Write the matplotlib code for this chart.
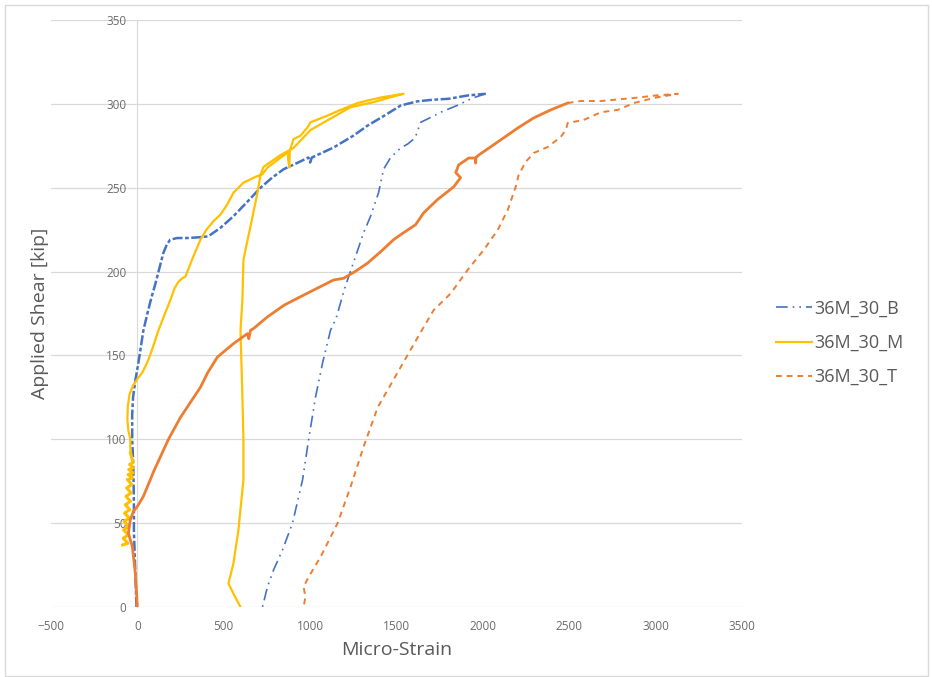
import matplotlib
matplotlib.use("Agg")
import matplotlib.pyplot as plt
from matplotlib.patches import Rectangle

plt.rcParams['font.family'] = ['Open Sans', 'DejaVu Sans']

# 36M_30_B : loading branch (dense points) and unloading branch
b_load_x = [-5, -10, -15, -20, -20, -22, -25, -30, -30, -25, -12, 5, 20, 35, 58, 80, 105, 130, 150,
            170, 190, 230, 290, 365, 410, 480, 556, 640, 713, 780, 846, 930, 990, 1000, 1010,
            1136, 1250, 1332, 1430, 1524, 1620, 1715, 1800, 1912, 2016]
b_load_y = [0, 15, 30, 45, 60, 75, 88, 100, 115, 125, 135, 145, 155, 165, 175, 184, 193, 203, 211,
            216, 219, 220, 220, 220.5, 221, 226, 233, 242, 250, 256, 261, 265, 268, 265, 268,
            274, 281, 287, 293, 299, 301.5, 302.5, 303, 305, 306]
b_unload_x = [2016, 1941, 1850, 1756, 1680, 1640, 1628, 1622, 1600, 1564, 1524, 1466, 1425, 1396,
              1350, 1309, 1263, 1200, 1150, 1118, 1072, 1031, 991, 956, 898, 840, 788, 753, 724]
b_unload_y = [306, 303.5, 299, 295, 291, 289, 285.6, 283, 279, 276, 273.7, 268, 261, 247,
              233, 223, 209, 190, 172, 165, 145.5, 125, 99.6, 75.7, 50, 34, 22, 12, 0]

# 36M_30_M : noisy low-load band, loading up to peak, then unloading
m_noise_x = [-85, -55, -82, -52, -80, -50, -77, -47, -74, -44, -70, -40, -66, -36, -62, -32, -58,
             -28, -54, -25, -50, -24, -45, -25, -40]
m_noise_y = [37, 38, 41, 43, 46, 48, 51, 53, 56, 58, 61, 63, 66, 68, 71, 73, 76,
             77, 79, 80, 82, 83, 85, 86, 92]
m_x = [-40, -41, -52, -58, -55, -45, -25, 0, 30, 58, 80, 100, 122, 160, 191, 215, 238, 260, 278,
       320, 365, 400, 440, 481, 520, 556, 614, 684, 724, 753, 811, 870, 875, 880, 882, 904, 944,
       985, 1002, 1100, 1176, 1275, 1332, 1420, 1541,
       1450, 1367, 1234, 1176, 1002, 904, 829, 730, 713, 695, 655, 630, 614, 608, 597, 608, 614,
       614, 585, 556, 527, 556, 597]
m_y = [92, 100, 105, 112, 120, 127, 132, 136, 140, 146, 152, 158, 165, 175, 183, 190, 194, 196, 197,
       208, 219, 225, 230, 234, 240, 247, 253, 256.5, 258, 262, 266.5, 271, 265, 262, 272, 279, 281,
       286, 289, 293, 296.4, 300.5, 302, 304, 306,
       303.5, 301, 298, 294.6, 284.4, 273.7, 269.5, 262.4, 257.6, 247, 227, 215, 207, 183, 165, 125, 100,
       76, 46, 26, 14, 8, 0]

# 36M_30_T : dense loading branch, then sparse top + unloading
t_load_x = [0, -12, -29, -52, -41, -23, 0, 35, 95, 180, 249, 365, 406, 463, 556, 637, 645, 655,
            672, 753, 850, 944, 1040, 1136, 1194, 1260, 1332, 1410, 1483, 1524, 1611, 1657, 1738,
            1831, 1871, 1843, 1860, 1918, 1958, 1958, 1960, 1976, 2040, 2103, 2202, 2294, 2393, 2491]
t_load_y = [0, 20, 36, 44, 52, 57, 60, 66, 81, 100, 113, 131, 139.5, 149, 157, 163, 160, 165,
            166, 173, 180, 185, 190, 195, 196, 200, 205, 212, 219, 222, 228, 235, 243,
            250.5, 256, 259, 263.6, 267.7, 267.7, 264.7, 268, 269.5, 274, 278.5, 285.6, 291.6, 296.4, 300.5]
t_unload_x = [2491, 2567, 2683, 2874, 3000, 3129, 2990, 2874, 2781, 2683, 2584, 2491, 2480, 2451,
              2376, 2294, 2248, 2207, 2190, 2144, 2086, 2005, 1912, 1814, 1715, 1651, 1524, 1391,
              1309, 1234, 1159, 1060, 991, 962, 973, 962]
t_unload_y = [300.5, 301.7, 301.7, 303.5, 305, 306, 303.5, 300.5, 296.4, 295, 290.4, 288.6, 284.4, 280.3,
              274.3, 270.7, 265.4, 257.6, 250.5, 236.8, 224.8, 212.9, 201, 187, 177, 165.8, 143, 119,
              95.4, 71.6, 50, 29.8, 17.9, 12, 6, 0]

blue = '#4472C4'
gold = '#FFC000'
orange = '#ED7D31'
text_gray = '#6b6b6b'
grid_gray = '#d9d9d9'

fig = plt.figure(figsize=(9.32, 6.77), dpi=100)
ax = fig.add_axes([51 / 932, 1 - 607 / 677, 691 / 932, 587 / 677])

ax.plot(b_load_x, b_load_y, color=blue, lw=1.8, ls=(0, (4, 1, 1.5, 1)))
lb, = ax.plot(b_unload_x, b_unload_y, color=blue, lw=1.2, ls=(0, (7, 3, 1, 3, 1, 3)), label='36M_30_B')
ax.plot(m_noise_x, m_noise_y, color=gold, lw=2.2)
lm, = ax.plot(m_x, m_y, color=gold, lw=1.6, label='36M_30_M')
ax.plot(t_load_x, t_load_y, color=orange, lw=2.0)
lt, = ax.plot(t_unload_x, t_unload_y, color=orange, lw=1.4, ls=(0, (3, 2.5)), label='36M_30_T')

ax.set_xlim(-500, 3500)
ax.set_ylim(0, 350)
ax.set_xticks(range(-500, 3501, 500))
ax.set_yticks(range(0, 351, 50))

for s in ['top', 'right', 'bottom']:
    ax.spines[s].set_visible(False)
ax.spines['left'].set_position(('data', 0))
ax.spines['left'].set_color(grid_gray)
ax.spines['left'].set_linewidth(0.8)
ax.spines['left'].set_zorder(0)

ax.grid(axis='y', color=grid_gray, lw=0.9)
ax.set_axisbelow(True)
ax.tick_params(axis='both', length=0, labelsize=8.5, labelcolor=text_gray)
ax.tick_params(axis='y', pad=8)
ax.tick_params(axis='x', pad=9)

ax.set_xlabel('Micro-Strain', fontsize=14, color='#595959', labelpad=6)
ax.set_ylabel('Applied Shear [kip]', fontsize=14, color='#595959')
ax.yaxis.set_label_coords(-0.003, 0.5)

fig.legend(handles=[lb, lm, lt], loc='center left', bbox_to_anchor=(760 / 932, 1 - 343 / 677),
           frameon=False, fontsize=13, labelcolor='#595959', handlelength=2.0,
           handletextpad=0.1, labelspacing=0.9)

fig.patches.append(Rectangle((5 / 932, 1 / 677), 923 / 932, 671 / 677, transform=fig.transFigure,
                             fill=False, edgecolor=grid_gray, lw=1))

fig.savefig('out.png', dpi=100)
